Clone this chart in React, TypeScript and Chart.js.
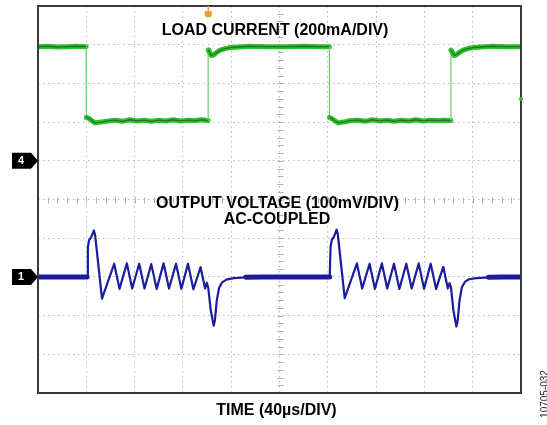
import React, { useEffect, useRef } from 'react';
import { Chart, registerables } from 'chart.js';

Chart.register(...registerables);

// Scope screen: 10 horizontal divisions of 40 µs, 10 vertical divisions
const X_MIN = 0;
const X_MAX = 400;
const Y_MIN = -5;
const Y_MAX = 5;

// Channel 4: load current (divisions), time in µs
const currentTime = [
  0, 8, 16, 24, 32, 39.9,
  40.0, 40.6, 42, 44.5, 47, 52, 58, 64, 70, 76, 82, 88, 94, 100, 106, 112, 118, 124, 130, 136, 140.8,
  140.9, 141.6, 143.5, 145.5, 148, 151, 155, 160, 166, 175, 190, 205, 220, 235, 241.3,
  241.4, 242, 243.5, 246, 248.5, 253, 259, 265, 271, 277, 283, 289, 295, 301, 307, 313, 319, 325, 331, 337, 341.9,
  342.0, 342.7, 344.6, 346.5, 349, 352, 356, 361, 367, 376, 388, 400,
];
const currentLevel = [
  3.95, 3.96, 3.94, 3.95, 3.96, 3.95,
  2.12, 2.12, 2.1, 2.04, 1.98, 2.0, 2.03, 2.05, 2.02, 2.06, 2.03, 2.05, 2.02, 2.05, 2.03, 2.06, 2.03, 2.05, 2.04, 2.06, 2.04,
  3.86, 3.84, 3.72, 3.74, 3.8, 3.86, 3.9, 3.93, 3.94, 3.96, 3.95, 3.95, 3.96, 3.95, 3.95,
  2.12, 2.11, 2.09, 2.03, 1.98, 2.0, 2.04, 2.05, 2.02, 2.06, 2.03, 2.05, 2.02, 2.05, 2.03, 2.06, 2.03, 2.05, 2.04, 2.05, 2.04,
  3.86, 3.83, 3.72, 3.74, 3.8, 3.86, 3.9, 3.93, 3.94, 3.96, 3.95, 3.95,
];

// Channel 1: output voltage, AC-coupled (divisions), time in µs
const voltageTime = [
  0, 20, 40.6,
  41.3, 42.3, 44.0, 46.3, 47.3, 53.0,
  63.1, 67.5, 73.6, 78.0, 83.8, 88.2, 93.8, 98.3, 104.0, 108.5, 114.3, 118.7, 124.2, 128.7, 134.6, 138.4,
  139.8, 141.0, 143.0, 145.5, 146.6, 148.0, 150.0, 152.5, 156, 162, 172, 185, 215, 241.6,
  242.3, 243.3, 245.0, 247.3, 248.3, 254.0,
  264.1, 268.5, 274.6, 279.0, 284.8, 289.2, 294.8, 299.3, 305.0, 309.5, 315.3, 319.7, 325.2, 329.7, 335.6, 339.4,
  340.8, 342.0, 344.0, 346.5, 347.6, 349.0, 351.0, 353.5, 357, 363, 373, 386, 400,
];
const voltageLevel = [
  -2.0, -2.0, -2.0,
  -1.25, -1.05, -0.98, -0.8, -0.92, -2.56,
  -1.66, -2.31, -1.65, -2.3, -1.66, -2.3, -1.67, -2.31, -1.65, -2.3, -1.66, -2.31, -1.66, -2.32, -1.75, -2.3,
  -2.15, -2.28, -2.85, -3.26, -3.1, -2.62, -2.28, -2.14, -2.07, -2.03, -2.01, -2.0, -2.0, -2.0,
  -1.22, -1.04, -0.97, -0.78, -0.9, -2.55,
  -1.65, -2.3, -1.66, -2.31, -1.65, -2.3, -1.66, -2.31, -1.66, -2.3, -1.65, -2.31, -1.66, -2.31, -1.74, -2.3,
  -2.16, -2.27, -2.86, -3.28, -3.12, -2.63, -2.27, -2.13, -2.06, -2.03, -2.01, -2.0, -2.0,
];

const loadLabel = 'LOAD CURRENT (200mA/DIV)';
const outputLabel = 'OUTPUT VOLTAGE (100mV/DIV)';
const couplingLabel = 'AC-COUPLED';
const timeLabel = 'TIME (40µs/DIV)';
const figureId = '10705-032';
const ch4Marker = '4';
const ch1Marker = '1';
const ch4Ground = 1;
const ch1Ground = -2;
const triggerTime = 141;
const ch4RightLevel = 2.6;

const FONT = '"Liberation Sans", Arial, Helvetica, sans-serif';

function drawMarker(ctx: CanvasRenderingContext2D, tipX: number, yPix: number, label: string) {
  ctx.save();
  ctx.fillStyle = '#000';
  ctx.beginPath();
  ctx.moveTo(tipX - 26, yPix - 8);
  ctx.lineTo(tipX - 7, yPix - 8);
  ctx.lineTo(tipX, yPix);
  ctx.lineTo(tipX - 7, yPix + 8);
  ctx.lineTo(tipX - 26, yPix + 8);
  ctx.closePath();
  ctx.fill();
  ctx.fillStyle = '#fff';
  ctx.font = `bold 11px ${FONT}`;
  ctx.textAlign = 'center';
  ctx.textBaseline = 'middle';
  ctx.fillText(label, tipX - 17, yPix + 0.5);
  ctx.restore();
}

const scopeDecor = {
  id: 'scopeDecor',
  beforeDatasetsDraw(chart: any) {
    const { ctx, scales } = chart;
    const x = scales.x;
    const y = scales.y;
    ctx.save();
    ctx.strokeStyle = '#b0b0b0';
    ctx.lineWidth = 1;
    const cx = Math.round(x.getPixelForValue((X_MIN + X_MAX) / 2)) + 0.5;
    const cy = Math.round(y.getPixelForValue(0)) + 0.5;
    ctx.beginPath();
    for (let i = 0; i <= 50; i++) {
      const py = Math.round(y.getPixelForValue(Y_MIN + i * 0.2)) + 0.5;
      ctx.moveTo(cx - 3, py);
      ctx.lineTo(cx + 3, py);
    }
    for (let i = 0; i <= 50; i++) {
      const px = Math.round(x.getPixelForValue(X_MIN + i * 8)) + 0.5;
      ctx.moveTo(px, cy - 3);
      ctx.lineTo(px, cy + 3);
    }
    ctx.stroke();
    ctx.restore();
  },
  afterDraw(chart: any) {
    const { ctx, chartArea: a, scales } = chart;
    const x = scales.x;
    const y = scales.y;
    ctx.save();
    // frame
    ctx.strokeStyle = '#3a3a3a';
    ctx.lineWidth = 2;
    ctx.strokeRect(a.left, a.top, a.right - a.left, a.bottom - a.top);

    // texts
    ctx.fillStyle = '#000';
    ctx.font = `bold 16px ${FONT}`;
    ctx.textAlign = 'center';
    ctx.textBaseline = 'alphabetic';
    ctx.fillText(loadLabel, 275, 35);
    ctx.fillText(outputLabel, 277.5, 208);
    ctx.fillText(couplingLabel, 277, 224);
    ctx.fillText(timeLabel, 276.5, 415);

    // figure id (rotated)
    ctx.save();
    ctx.translate(545, 394);
    ctx.rotate(-Math.PI / 2);
    ctx.font = `10px ${FONT}`;
    ctx.fillStyle = '#222';
    ctx.textAlign = 'center';
    ctx.textBaseline = 'middle';
    ctx.fillText(figureId, 0, 0);
    ctx.restore();

    // channel ground markers
    drawMarker(ctx, a.left, y.getPixelForValue(ch4Ground), ch4Marker);
    drawMarker(ctx, a.left, y.getPixelForValue(ch1Ground), ch1Marker);

    // trigger position marker
    const tx = x.getPixelForValue(triggerTime);
    ctx.fillStyle = '#e9a23b';
    ctx.fillRect(tx - 0.75, a.top, 1.5, 5);
    ctx.beginPath();
    ctx.moveTo(tx - 3.5, a.top + 5);
    ctx.lineTo(tx + 3.5, a.top + 5);
    ctx.lineTo(tx + 3.5, a.top + 10);
    ctx.quadraticCurveTo(tx, a.top + 13, tx - 3.5, a.top + 10);
    ctx.closePath();
    ctx.fill();

    // channel 4 level dot at right edge
    ctx.fillStyle = '#33b833';
    ctx.beginPath();
    ctx.arc(a.right, y.getPixelForValue(ch4RightLevel), 2, 0, Math.PI * 2);
    ctx.fill();
    ctx.restore();
  },
};

function isEdge(ctx: any, times: number[]) {
  return Math.abs(times[ctx.p1DataIndex] - times[ctx.p0DataIndex]) < 0.2;
}

export default function App() {
  const canvasRef = useRef<HTMLCanvasElement | null>(null);

  useEffect(() => {
    const canvas = canvasRef.current;
    if (!canvas) return;
    const currentData = currentTime.map((t, i) => ({ x: t, y: currentLevel[i] }));
    const voltageData = voltageTime.map((t, i) => ({ x: t, y: voltageLevel[i] }));

    const chart = new Chart(canvas, {
      type: 'line',
      data: {
        datasets: [
          {
            label: 'Load current core',
            data: currentData,
            borderColor: '#1a7a1a',
            borderWidth: 1.3,
            pointRadius: 0,
            tension: 0,
            order: 0,
            segment: {
              borderColor: (c: any) => (isEdge(c, currentTime) ? 'rgba(0,0,0,0)' : '#1a7a1a'),
            },
          },
          {
            label: 'Load current',
            data: currentData,
            borderColor: '#2fbf2f',
            borderWidth: 5,
            pointRadius: 0,
            tension: 0,
            borderCapStyle: 'round',
            borderJoinStyle: 'round',
            order: 1,
            segment: {
              borderWidth: (c: any) => (isEdge(c, currentTime) ? 1.2 : 5),
              borderColor: (c: any) => (isEdge(c, currentTime) ? '#6ccf6c' : '#2fbf2f'),
            },
          },
          {
            label: 'Output voltage',
            data: voltageData,
            borderColor: '#1c1c9e',
            borderWidth: 2.2,
            pointRadius: 0,
            tension: 0,
            borderCapStyle: 'round',
            borderJoinStyle: 'round',
            order: 2,
            segment: {
              borderWidth: (c: any) => {
                const a = voltageLevel[c.p0DataIndex];
                const b = voltageLevel[c.p1DataIndex];
                return Math.abs(a - ch1Ground) < 0.015 && Math.abs(b - ch1Ground) < 0.015 ? 5 : 2.2;
              },
            },
          },
        ],
      },
      options: {
        animation: false,
        responsive: false,
        maintainAspectRatio: false,
        parsing: false,
        layout: { padding: { left: 38, top: 6, right: 26, bottom: 32 } },
        plugins: {
          legend: { display: false },
          tooltip: { enabled: false },
        },
        scales: {
          x: {
            type: 'linear',
            min: X_MIN,
            max: X_MAX,
            ticks: { display: false, stepSize: 40 },
            grid: { color: '#b8b8b8', lineWidth: 1, drawTicks: false },
            border: { display: false, dash: [1.5, 3.5] },
          },
          y: {
            type: 'linear',
            min: Y_MIN,
            max: Y_MAX,
            ticks: { display: false, stepSize: 1 },
            grid: { color: '#b8b8b8', lineWidth: 1, drawTicks: false },
            border: { display: false, dash: [1.5, 3.5] },
          },
        },
      },
      plugins: [scopeDecor],
    } as any);

    return () => chart.destroy();
  }, []);

  return (
    <div style={{ position: 'absolute', left: 0, top: 0, width: 547, height: 425, background: '#fff' }}>
      <canvas ref={canvasRef} width={547} height={425} style={{ display: 'block', width: 547, height: 425 }} />
    </div>
  );
}
